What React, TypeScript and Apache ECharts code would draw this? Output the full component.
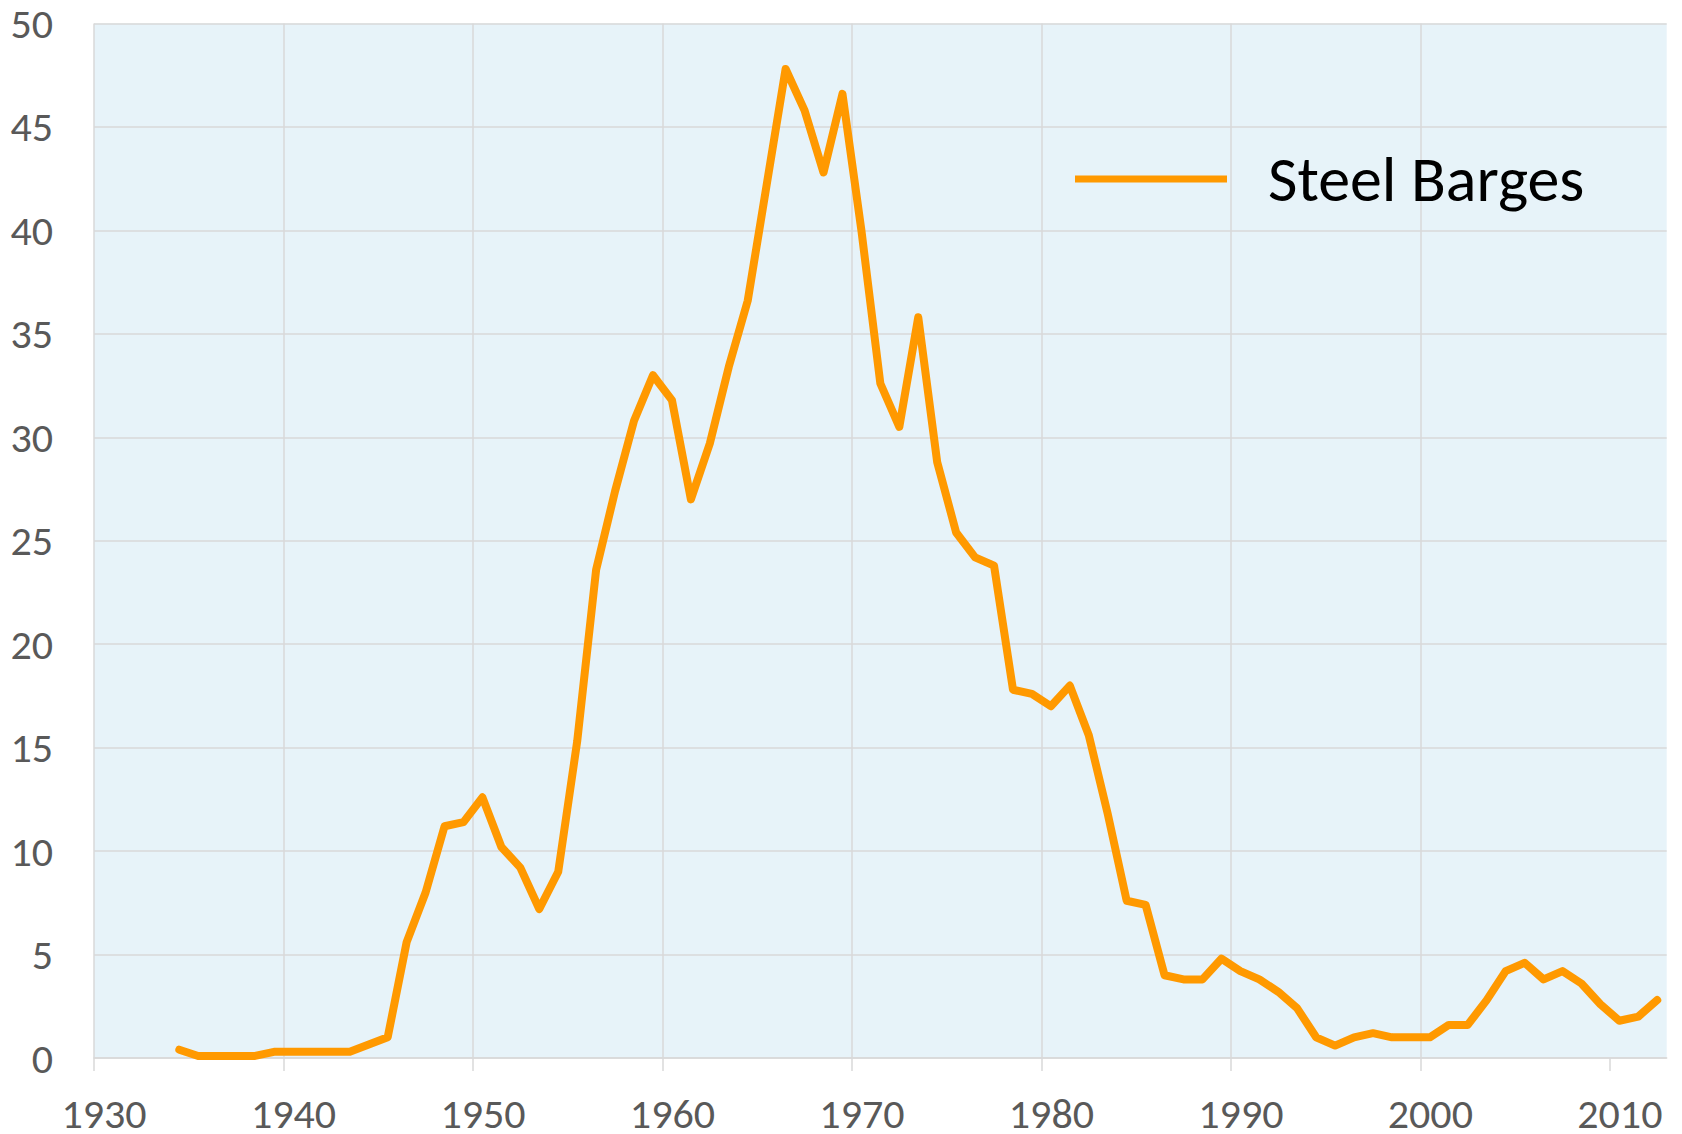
import React, { useEffect, useRef } from "react";
import * as echarts from "echarts";

const years = [
  1934, 1935, 1936, 1937, 1938, 1939, 1940, 1941, 1942, 1943,
  1944, 1945, 1946, 1947, 1948, 1949, 1950, 1951, 1952, 1953,
  1954, 1955, 1956, 1957, 1958, 1959, 1960, 1961, 1962, 1963,
  1964, 1965, 1966, 1967, 1968, 1969, 1970, 1971, 1972, 1973,
  1974, 1975, 1976, 1977, 1978, 1979, 1980, 1981, 1982, 1983,
  1984, 1985, 1986, 1987, 1988, 1989, 1990, 1991, 1992, 1993,
  1994, 1995, 1996, 1997, 1998, 1999, 2000, 2001, 2002, 2003,
  2004, 2005, 2006, 2007, 2008, 2009, 2010, 2011, 2012,
];

const steelBarges = [
  0.4, 0.1, 0.1, 0.1, 0.1, 0.3, 0.3, 0.3, 0.3, 0.3,
  0.65, 1.0, 5.6, 8.0, 11.2, 11.4, 12.6, 10.2, 9.2, 7.2,
  9.0, 15.3, 23.6, 27.4, 30.8, 33.0, 31.8, 27.0, 29.7, 33.4,
  36.6, 42.2, 47.8, 45.8, 42.8, 46.6, 40.0, 32.6, 30.5, 35.8,
  28.8, 25.4, 24.2, 23.8, 17.8, 17.6, 17.0, 18.0, 15.6, 11.8,
  7.6, 7.4, 4.0, 3.8, 3.8, 4.8, 4.2, 3.8, 3.2, 2.4,
  1.0, 0.6, 1.0, 1.2, 1.0, 1.0, 1.0, 1.6, 1.6, 2.8,
  4.2, 4.6, 3.8, 4.2, 3.6, 2.6, 1.8, 2.0, 2.8,
];

const xTickLabels = [1930, 1940, 1950, 1960, 1970, 1980, 1990, 2000, 2010];
const yTickLabels = [0, 5, 10, 15, 20, 25, 30, 35, 40, 45, 50];
const seriesName = "Steel Barges";

const FONT = "Carlito, Lato, 'Noto Sans', sans-serif";

export default function App() {
  const ref = useRef<HTMLDivElement>(null);

  useEffect(() => {
    if (!ref.current) return;
    const chart = echarts.init(ref.current, null, { renderer: "svg" });
    const data = years.map((y, i) => [y + 0.5, steelBarges[i]]);
    chart.setOption({
      animation: false,
      backgroundColor: "#ffffff",
      grid: {
        left: 94,
        top: 23.5,
        right: 15.3,
        bottom: 75.6,
        show: true,
        backgroundColor: "#E7F3F9",
        borderWidth: 0,
      },
      legend: {
        show: true,
        left: 1075,
        top: 147,
        padding: 0,
        icon: "rect",
        itemWidth: 152,
        itemHeight: 7,
        data: [seriesName],
        textStyle: {
          fontFamily: FONT,
          fontSize: 64,
          color: "#000000",
          padding: [0, 0, 0, 36],
        },
      },
      xAxis: {
        type: "value",
        min: xTickLabels[0],
        max: 2013,
        interval: 10,
        axisLine: { show: true, lineStyle: { color: "#D9D9D9", width: 1.5 } },
        axisTick: {
          show: true,
          length: 13,
          lineStyle: { color: "#D9D9D9", width: 1.5 },
          customValues: xTickLabels,
        },
        axisLabel: {
          show: true,
          customValues: xTickLabels,
          fontFamily: FONT,
          fontSize: 42,
          lineHeight: 30,
          color: "#595959",
          margin: 40,
          padding: [0, 0, 0, 20],
          formatter: (v: number) => String(v),
        },
        splitLine: {
          show: true,
          showMaxLine: false,
          lineStyle: { color: "#D9D9D9", width: 1.5 },
        },
      },
      yAxis: {
        type: "value",
        min: yTickLabels[0],
        max: yTickLabels[yTickLabels.length - 1],
        interval: 5,
        axisLine: { show: false },
        axisTick: { show: false },
        axisLabel: {
          fontFamily: FONT,
          fontSize: 42,
          lineHeight: 30,
          color: "#595959",
          margin: 41,
        },
        splitLine: { show: true, lineStyle: { color: "#D9D9D9", width: 1.5 } },
      },
      series: [
        {
          name: seriesName,
          type: "line",
          data,
          showSymbol: false,
          symbol: "none",
          color: "#FF9900",
          lineStyle: { color: "#FF9900", width: 8, cap: "round", join: "round" },
        },
      ],
    });
    return () => chart.dispose();
  }, []);

  return (
    <div
      ref={ref}
      style={{ position: "fixed", left: 0, top: 0, width: 1682, height: 1134 }}
    />
  );
}
